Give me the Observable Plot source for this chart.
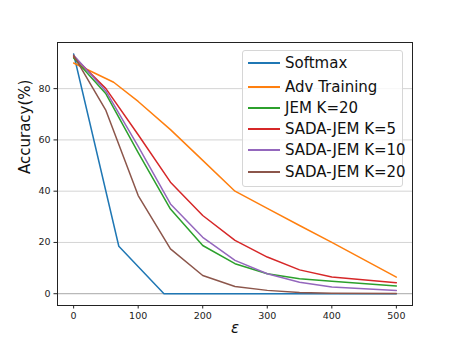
<!DOCTYPE html>
<html>
<head>
<meta charset="utf-8">
<script src="https://cdn.jsdelivr.net/npm/d3@7"></script>
<script src="https://cdn.jsdelivr.net/npm/@observablehq/plot@0.6"></script>
<style>
  html, body { margin: 0; padding: 0; background: #fff; }
  #wrap { position: relative; width: 457px; height: 343px; font-family: "DejaVu Sans", sans-serif; }
  #legend { position: absolute; left: 242px; top: 50px; width: 161px; height: 137px;
    background: rgba(255,255,255,0.8); border: 1px solid #d6d6d6; border-radius: 3px; box-sizing: border-box; }
  .row { position: absolute; left: 5px; height: 20px; display: flex; align-items: center; font-size: 15px; color: #111; white-space: nowrap; }
  .sw { display: block; width: 32px; height: 2px; margin-right: 5px; flex: none; }
</style>
</head>
<body>
<div id="wrap"></div>
<script>
// ---- data ----
const seriesNames = ["Softmax", "Adv Training", "JEM K=20", "SADA-JEM K=5", "SADA-JEM K=10", "SADA-JEM K=20"];
const seriesColors = ["#1f77b4", "#ff7f0e", "#2ca02c", "#d62728", "#9467bd", "#8c564b"];

const softmaxEps = [0, 70, 140, 200, 300, 400, 500];
const softmaxAcc = [93.5, 18.5, 0, 0, 0, 0, 0];

const advEps = [0, 62, 100, 150, 200, 250, 300, 350, 400, 500];
const advAcc = [90, 82.5, 75, 64, 52, 40, 33.3, 26.6, 20, 6.5];

const epsGrid = [0, 50, 100, 150, 200, 250, 300, 350, 400, 500];
const jemK20 = [92, 78, 55, 33, 18.8, 11.7, 7.8, 5.8, 4.9, 3.0];
const sadaK5 = [92.5, 80, 62, 43.5, 30.5, 20.8, 14.3, 9.3, 6.5, 4.3];
const sadaK10 = [93, 79, 57.5, 35, 22, 13, 7.8, 4.5, 2.6, 1.3];
const sadaK20 = [93, 71.5, 38.3, 17.5, 7.1, 2.8, 1.3, 0.5, 0.2, 0.1];

const xTicks = [0, 100, 200, 300, 400, 500];
const yTicks = [0, 20, 40, 60, 80];
const yLabel = "Accuracy(%)";
const xLabel = "ε";

// ---- build table ----
const seriesX = [softmaxEps, advEps, epsGrid, epsGrid, epsGrid, epsGrid];
const seriesY = [softmaxAcc, advAcc, jemK20, sadaK5, sadaK10, sadaK20];
const rows = seriesNames.map((name, i) => seriesX[i].map((x, j) => ({series: name, eps: x, acc: seriesY[i][j]})));

const lineMarks = rows.map((data, i) =>
  Plot.line(data, {x: "eps", y: "acc", stroke: seriesColors[i], strokeWidth: 1.5}));

const chart = Plot.plot({
  width: 457,
  height: 343,
  marginLeft: 57,
  marginRight: 45,
  marginTop: 42,
  marginBottom: 38,
  style: {fontFamily: "DejaVu Sans, sans-serif", fontSize: "9.5px", color: "#222", background: "#fff"},
  x: {domain: [-25, 525]},
  y: {domain: [-4.6, 98]},
  marks: [
    Plot.ruleY(yTicks.filter(d => d !== 0), {stroke: "#d4d4d4", strokeWidth: 1}),
    Plot.ruleY([0], {stroke: "#a8a8a8", strokeWidth: 1}),
    ...lineMarks,
    Plot.axisX({ticks: xTicks, tickSize: 3.5, tickPadding: 3.5, label: null, stroke: "#222"}),
    Plot.axisY({ticks: yTicks, tickSize: 3.5, tickPadding: 3.5, label: null, stroke: "#222"}),
    Plot.frame({stroke: "#222", strokeWidth: 1}),
    Plot.text([yLabel], {frameAnchor: "left", dx: -32, rotate: -90, fontSize: 15, text: d => d, fill: "#111"}),
    Plot.text([xLabel], {frameAnchor: "bottom", dy: 27, fontSize: 15, fontStyle: "italic", text: d => d, fill: "#111"})
  ]
});

const wrap = document.getElementById("wrap");
wrap.appendChild(chart);

// legend
const legend = document.createElement("div");
legend.id = "legend";
const rowTops = [2, 26, 47, 68, 89, 111];
seriesNames.forEach((name, i) => {
  const r = document.createElement("div");
  r.className = "row";
  r.style.top = rowTops[i] + "px";
  const sw = document.createElement("div");
  sw.className = "sw";
  sw.style.background = seriesColors[i];
  const t = document.createElement("span");
  t.textContent = name;
  r.appendChild(sw);
  r.appendChild(t);
  legend.appendChild(r);
});
wrap.appendChild(legend);
</script>
</body>
</html>
